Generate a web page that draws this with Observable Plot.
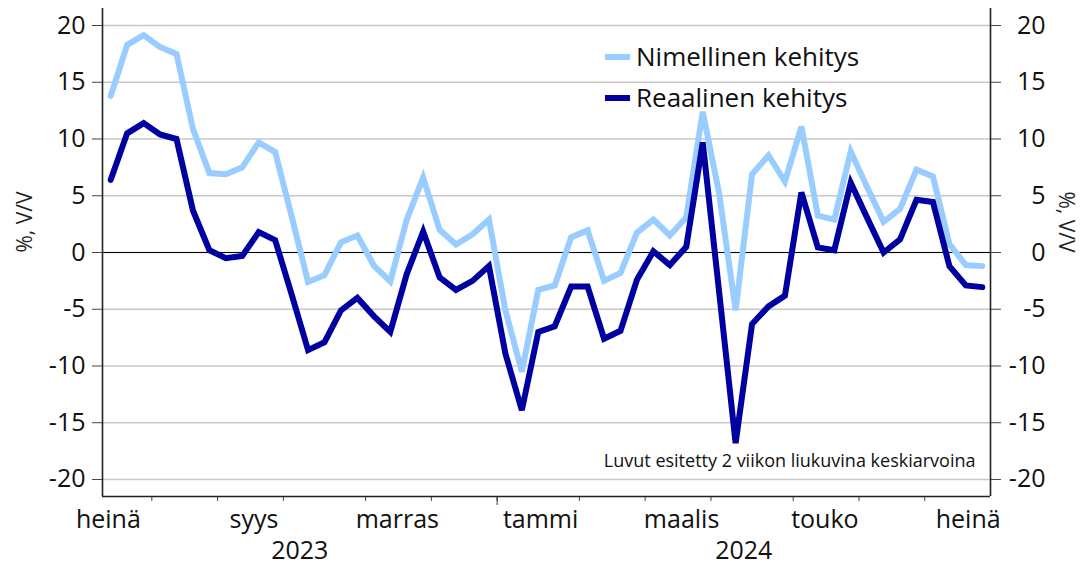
<!DOCTYPE html>
<html>
<head>
<meta charset="utf-8">
<script src="https://cdn.jsdelivr.net/npm/d3@7"></script>
<script src="https://cdn.jsdelivr.net/npm/@observablehq/plot@0.6"></script>
<style>
  html, body { margin: 0; padding: 0; background: #fff; }
  #wrap { position: relative; width: 1082px; height: 575px; font-family: "Open Sans", "Noto Sans", sans-serif; }
  #legend { position: absolute; left: 605px; top: 36px; font-size: 26px; color: #111; line-height: 41px; }
  #legend .row { display: flex; align-items: center; white-space: nowrap; }
  #legend .sw { display: inline-block; width: 25px; height: 6px; margin-right: 6px; }
</style>
</head>
<body>
<div id="wrap"><div id="legend"></div></div>
<script>
// ---- data ----
const firstWeek = "2023-07-17";   // weekly observations (Mondays)
const lastWeek  = "2024-07-22";
const nimellinen = [13.8, 18.3, 19.15, 18.1, 17.5, 10.9, 7.0, 6.9, 7.5, 9.7, 8.85, 3.2, -2.6, -2.0, 0.9, 1.5, -1.15, -2.55, 2.9, 6.6, 2.0, 0.7, 1.6, 2.9, -5.1, -10.5, -3.3, -2.9, 1.35, 1.95, -2.5, -1.8, 1.75, 2.9, 1.5, 3.1, 12.4, 5.2, -5.1, 6.9, 8.55, 6.25, 11.1, 3.25, 2.9, 8.9, 5.75, 2.7, 3.85, 7.3, 6.7, 0.75, -1.1, -1.2];
const reaalinen  = [6.4, 10.5, 11.4, 10.4, 10.0, 3.7, 0.2, -0.5, -0.3, 1.8, 1.1, -3.7, -8.6, -7.9, -5.1, -4.0, -5.6, -7.0, -1.9, 1.85, -2.2, -3.3, -2.5, -1.2, -8.9, -13.9, -7.0, -6.5, -3.0, -3.0, -7.6, -6.9, -2.4, 0.1, -1.1, 0.5, 9.7, -3.5, -16.8, -6.3, -4.75, -3.8, 5.3, 0.45, 0.2, 6.15, 3.05, 0.0, 1.15, 4.65, 4.45, -1.2, -2.9, -3.05];
const seriesNames = ["Nimellinen kehitys", "Reaalinen kehitys"];
const seriesColors = ["#99ccff", "#0000a0"];
const monthLabels = ["heinä", "syys", "marras", "tammi", "maalis", "touko", "heinä"];
const monthLabelMonths = ["2023-07", "2023-09", "2023-11", "2024-01", "2024-03", "2024-05", "2024-07"];
const yearLabels = ["2023", "2024"];
const yTicks = [-20, -15, -10, -5, 0, 5, 10, 15, 20];
const yDomain = [-21.5, 21.5];
const axisTitle = "%, V/V";
const note = "Luvut esitetty 2 viikon liukuvina keskiarvoina";

// ---- derived tables ----
const weeks = d3.utcMonday.range(new Date(firstWeek), d3.utcDay.offset(new Date(lastWeek), 1));
const rows = [];
weeks.forEach((d, i) => {
  rows.push({date: d, value: nimellinen[i], series: seriesNames[0]});
});
weeks.forEach((d, i) => {
  rows.push({date: d, value: reaalinen[i], series: seriesNames[1]});
});
const halfWeek = 3.5 * 864e5;
const xDomain = [new Date(+weeks[0] - halfWeek), new Date(+weeks[weeks.length - 1] + halfWeek)];
const monthTicks = [], yearTicks = [];
for (let i = 1; i < weeks.length; i++) {
  const a = weeks[i - 1], b = weeks[i];
  if (a.getUTCMonth() !== b.getUTCMonth()) {
    const mid = new Date((+a + +b) / 2);
    monthTicks.push(mid);
    if (a.getUTCFullYear() !== b.getUTCFullYear()) yearTicks.push(mid);
  }
}
const monthLabelRows = monthLabels.map((t, i) => ({label: t, date: new Date(monthLabelMonths[i] + "-16")}));
const yearBounds = [xDomain[0], ...yearTicks, xDomain[1]];
const yearLabelRows = yearLabels.map((t, i) => ({label: t, date: new Date((+yearBounds[i] + +yearBounds[i + 1]) / 2)}));

const font = "'Open Sans', 'Noto Sans', sans-serif";

const chart = Plot.plot({
  width: 1082,
  height: 575,
  marginLeft: 102,
  marginRight: 92,
  marginTop: 8,
  marginBottom: 79,
  style: {fontFamily: font, color: "#111", background: "transparent"},
  x: {type: "utc", domain: xDomain},
  y: {domain: yDomain},
  color: {domain: seriesNames, range: seriesColors},
  marks: [
    Plot.gridY(yTicks, {stroke: "#c8c8c8", strokeOpacity: 1, strokeWidth: 1.3}),
    Plot.ruleY([0], {stroke: "#000", strokeWidth: 1.2}),
    Plot.axisY({anchor: "left", ticks: yTicks, tickSize: 10, tickPadding: 7, fontSize: 25, tickFormat: d => String(d), label: null, stroke: "#444"}),
    Plot.axisY({anchor: "right", ticks: yTicks, tickSize: 10, tickPadding: 45, textAnchor: "end", fontSize: 25, tickFormat: d => String(d), label: null, stroke: "#444"}),
    Plot.axisX({ticks: monthTicks, tickSize: 5, tickFormat: () => "", label: null, stroke: "#444"}),
    Plot.axisX({ticks: yearTicks, tickSize: 9, tickFormat: () => "", label: null, stroke: "#333"}),
    Plot.ruleX(xDomain, {stroke: "#222", strokeWidth: 1.6}),
    Plot.ruleY([yDomain[0]], {stroke: "#222", strokeWidth: 1.6}),
    Plot.line(rows, {x: "date", y: "value", z: "series", stroke: "series", strokeWidth: 6, strokeLinejoin: "miter", strokeMiterlimit: 4}),
    Plot.text(monthLabelRows, {x: "date", text: "label", frameAnchor: "bottom", dy: 31, fontSize: 25, fill: "#111"}),
    Plot.text(yearLabelRows, {x: "date", text: "label", frameAnchor: "bottom", dy: 62, fontSize: 25, fill: "#111"}),
    Plot.text([note], {text: d => d, frameAnchor: "bottom-right", dx: -15, dy: -30, textAnchor: "end", fontSize: 18, fill: "#111"}),
    Plot.text([axisTitle], {text: d => d, frameAnchor: "left", dx: -77, rotate: -90, fontSize: 21, fill: "#222"}),
    Plot.text([axisTitle], {text: d => d, frameAnchor: "right", dx: 75, rotate: 90, fontSize: 21, fill: "#222"})
  ]
});
const wrap = document.getElementById("wrap");
wrap.insertBefore(chart, wrap.firstChild);

const legend = document.getElementById("legend");
seriesNames.forEach((name, i) => {
  const row = document.createElement("div");
  row.className = "row";
  const sw = document.createElement("span");
  sw.className = "sw";
  sw.style.background = seriesColors[i];
  row.appendChild(sw);
  row.appendChild(document.createTextNode(name));
  legend.appendChild(row);
});
</script>
</body>
</html>
